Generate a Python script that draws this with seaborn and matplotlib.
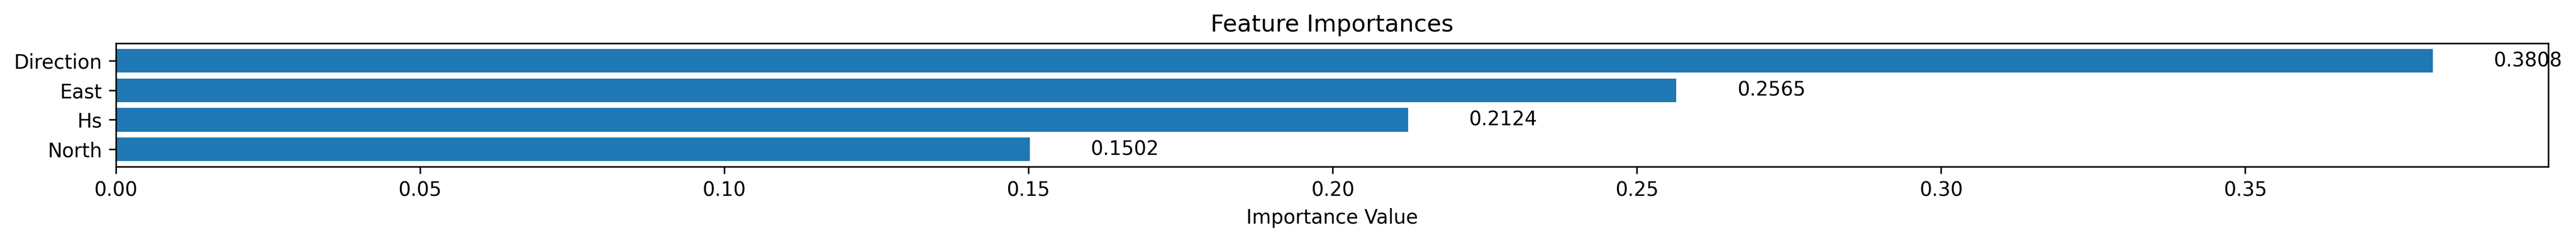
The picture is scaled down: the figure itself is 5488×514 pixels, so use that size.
import matplotlib
matplotlib.use("Agg")
import matplotlib.pyplot as plt
import seaborn as sns
import pandas as pd

# feature importances, top to bottom
features = ["Direction", "East", "Hs", "North"]
importances = [0.3808, 0.2565, 0.2124, 0.1502]

df = pd.DataFrame({"feature": features, "importance": importances})

fig, ax = plt.subplots(figsize=(5488 / 300, 514 / 300), dpi=300)
fig.subplots_adjust(left=0.045, right=0.9893, top=0.821, bottom=0.311)

sns.barplot(data=df, x="importance", y="feature", orient="h",
            color="#1f77b4", saturation=1, width=0.8, ax=ax)

# value labels to the right of each bar
for i, v in enumerate(importances):
    ax.text(v + 0.01, i, f"{v:.4f}", va="center", ha="left", fontsize=10)

ax.set_xlim(0, max(importances) * 1.05)
ax.set_ylim(len(features) - 1 + 0.59, -0.59)
ax.set_xlabel("Importance Value")
ax.set_ylabel("")
ax.set_title("Feature Importances")

fig.savefig("out.png", dpi=300)
